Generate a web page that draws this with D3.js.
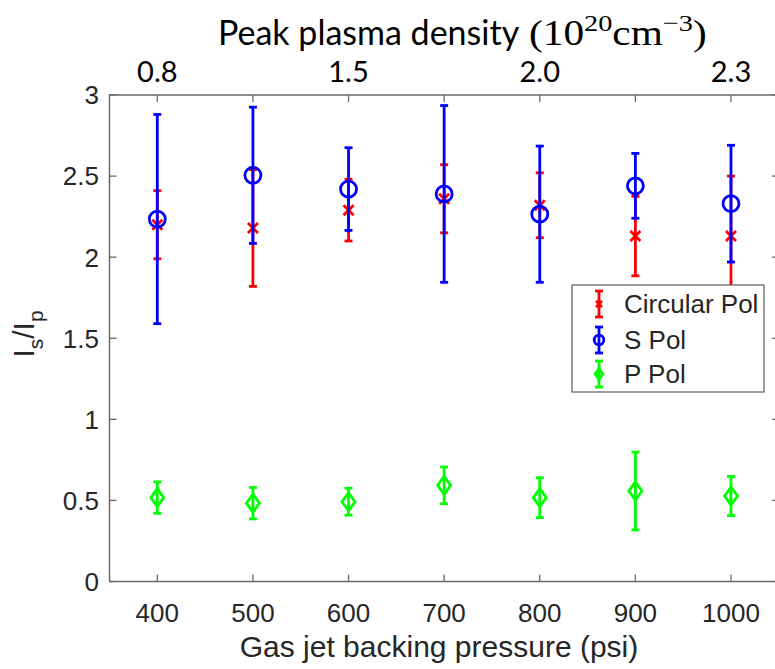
<!DOCTYPE html>
<html>
<head>
<meta charset="utf-8">
<script src="https://cdn.jsdelivr.net/npm/d3@7"></script>
<style>
  html, body { margin: 0; padding: 0; background: #fff; }
  svg { display: block; }
</style>
</head>
<body>
<svg id="chart" width="775" height="669"></svg>
<script>
// ---- data ----
const pressure = [400, 500, 600, 700, 800, 900, 1000];
const circularPol = [2.20, 2.18, 2.29, 2.36, 2.32, 2.13, 2.13];
const circularErr = [0.21, 0.36, 0.19, 0.21, 0.20, 0.245, 0.37];
const sPol = [2.235, 2.505, 2.42, 2.39, 2.265, 2.44, 2.33];
const sErr = [0.645, 0.42, 0.255, 0.545, 0.42, 0.20, 0.36];
const pPol = [0.517, 0.483, 0.492, 0.593, 0.517, 0.558, 0.527];
const pErr = [0.097, 0.097, 0.083, 0.113, 0.123, 0.24, 0.121];
const yTicks = [0, 0.5, 1, 1.5, 2, 2.5, 3];
const densityTickPos = [400, 600, 800, 1000];
const densityLabels = ["0.8", "1.5", "2.0", "2.3"];
const seriesNames = ["Circular Pol", "S Pol", "P Pol"];

// ---- layout ----
const svg = d3.select("#chart");
svg.append("rect").attr("width", 775).attr("height", 669).attr("fill", "#fff");

const x = d3.scaleLinear().domain([350, 1050]).range([109.5, 778.8]);
const y = d3.scaleLinear().domain([0, 3]).range([581.5, 95]);

const axisColor = "#6a6a6a";
const textColor = "#262626";
const sans = "'Liberation Sans', Arial, sans-serif";
const calib = "Lato, 'Open Sans', sans-serif";
const serif = "'Liberation Serif', 'Times New Roman', serif";

const [x0, x1] = x.range();
const [yb, yt] = y.range();

// frame
const g = svg.append("g");
g.append("rect").attr("x", x0).attr("y", yt).attr("width", x1 - x0).attr("height", yb - yt)
  .attr("fill", "none").attr("stroke", axisColor).attr("stroke-width", 1.5);

const tl = 7;
// bottom & top ticks
pressure.forEach(p => {
  g.append("line").attr("x1", x(p)).attr("x2", x(p)).attr("y1", yb).attr("y2", yb - tl)
    .attr("stroke", axisColor).attr("stroke-width", 1.3);
  g.append("line").attr("x1", x(p)).attr("x2", x(p)).attr("y1", yt).attr("y2", yt + tl)
    .attr("stroke", axisColor).attr("stroke-width", 1.3);
  g.append("text").attr("x", x(p)).attr("y", 622).attr("text-anchor", "middle")
    .attr("font-family", sans).attr("font-size", 26).attr("fill", textColor).text(p);
});
// y ticks
yTicks.forEach(v => {
  g.append("line").attr("x1", x0).attr("x2", x0 + tl).attr("y1", y(v)).attr("y2", y(v))
    .attr("stroke", axisColor).attr("stroke-width", 1.3);
  g.append("line").attr("x1", x1).attr("x2", x1 - tl).attr("y1", y(v)).attr("y2", y(v))
    .attr("stroke", axisColor).attr("stroke-width", 1.3);
  g.append("text").attr("x", 99).attr("y", y(v)).attr("dy", "0.36em").attr("text-anchor", "end")
    .attr("font-family", sans).attr("font-size", 26).attr("fill", textColor).text(v);
});
// top density labels
densityTickPos.forEach((p, i) => {
  g.append("text").attr("x", x(p)).attr("y", 82).attr("text-anchor", "middle")
    .attr("font-family", calib).attr("font-size", 29).attr("fill", "#000").text(densityLabels[i]);
});

// top title
svg.append("text").attr("x", 218).attr("y", 45).attr("fill", "#000")
  .attr("font-family", calib).attr("font-size", 34).text("Peak plasma density");
const math = svg.append("text").attr("transform", "translate(529,45) scale(1.18,1)")
  .attr("fill", "#000").attr("font-family", serif).attr("font-size", 35);
math.append("tspan").text("(10");
math.append("tspan").attr("font-size", 24).attr("dy", -14).text("20");
math.append("tspan").attr("dy", 14).text("cm");
math.append("tspan").attr("font-size", 24).attr("dy", -14).text("\u22123");
math.append("tspan").attr("dy", 14).text(")");

// x label
svg.append("text").attr("x", 439).attr("y", 657).attr("text-anchor", "middle")
  .attr("font-family", sans).attr("font-size", 30).attr("fill", textColor)
  .text("Gas jet backing pressure (psi)");

// y label
const yl = svg.append("text").attr("transform", "translate(34,334) rotate(-90)")
  .attr("text-anchor", "middle").attr("font-family", sans).attr("font-size", 30).attr("fill", textColor);
yl.append("tspan").text("I");
yl.append("tspan").attr("font-size", 21).attr("dy", 9).text("s");
yl.append("tspan").attr("dy", -9).text("/I");
yl.append("tspan").attr("font-size", 21).attr("dy", 9).text("p");

// ---- series ----
const cap = 4;
const lw = 2.8;
function errorbars(vals, errs, color, marker) {
  const sg = svg.append("g");
  pressure.forEach((p, i) => {
    const cx = x(p), lo = y(vals[i] - errs[i]), hi = y(vals[i] + errs[i]);
    sg.append("line").attr("x1", cx).attr("x2", cx).attr("y1", lo).attr("y2", hi)
      .attr("stroke", color).attr("stroke-width", lw);
    [lo, hi].forEach(yy => sg.append("line").attr("x1", cx - cap).attr("x2", cx + cap)
      .attr("y1", yy).attr("y2", yy).attr("stroke", color).attr("stroke-width", lw));
    marker(sg, cx, y(vals[i]), color, 1);
  });
}
function xMarker(sel, cx, cy, color, s) {
  const r = 5 * s;
  sel.append("path").attr("d", `M${cx - r},${cy - r}L${cx + r},${cy + r}M${cx - r},${cy + r}L${cx + r},${cy - r}`)
    .attr("stroke", color).attr("stroke-width", lw).attr("fill", "none");
}
function circleMarker(sel, cx, cy, color, s) {
  sel.append("circle").attr("cx", cx).attr("cy", cy).attr("r", 8 * s)
    .attr("stroke", color).attr("stroke-width", lw).attr("fill", "none");
}
function diamondMarker(sel, cx, cy, color, s) {
  const w = 6.5 * s, h = 9 * s;
  sel.append("path").attr("d", `M${cx},${cy - h}L${cx + w},${cy}L${cx},${cy + h}L${cx - w},${cy}Z`)
    .attr("stroke", color).attr("stroke-width", lw).attr("fill", "none");
}

errorbars(circularPol, circularErr, "#ff0000", xMarker);
errorbars(sPol, sErr, "#0000ff", circleMarker);
errorbars(pPol, pErr, "#00ff00", diamondMarker);

// ---- legend ----
const lg = svg.append("g");
lg.append("rect").attr("x", 572).attr("y", 285).attr("width", 192).attr("height", 107)
  .attr("fill", "#fff").attr("stroke", axisColor).attr("stroke-width", 1.3);
const legendColors = ["#ff0000", "#0000ff", "#00ff00"];
const legendMarkers = [xMarker, circleMarker, diamondMarker];
const legendY = [304, 340, 374];
seriesNames.forEach((name, i) => {
  const cx = 599, cy = legendY[i];
  lg.append("line").attr("x1", cx).attr("x2", cx).attr("y1", cy - 13).attr("y2", cy + 13)
    .attr("stroke", legendColors[i]).attr("stroke-width", lw);
  [cy - 13, cy + 13].forEach(yy => lg.append("line").attr("x1", cx - cap).attr("x2", cx + cap)
    .attr("y1", yy).attr("y2", yy).attr("stroke", legendColors[i]).attr("stroke-width", lw));
  legendMarkers[i](lg, cx, cy, legendColors[i], 0.6);
  lg.append("text").attr("x", 624).attr("y", cy).attr("dy", "0.36em")
    .attr("font-family", sans).attr("font-size", 26).attr("fill", textColor).text(name);
});
</script>
</body>
</html>
